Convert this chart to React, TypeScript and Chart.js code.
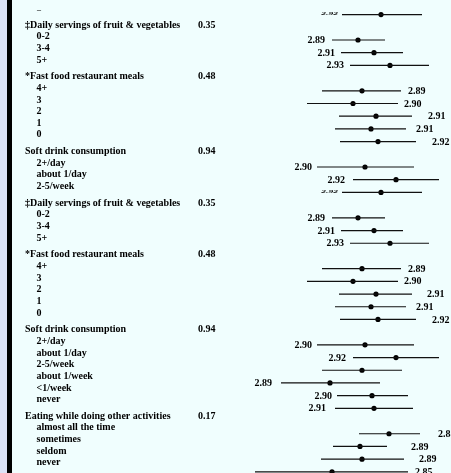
import { useEffect, useRef } from "react";
import { Chart, registerables } from "chart.js";

Chart.register(...registerables);

// Row labels (top to bottom)
const rowLabels: string[] = [
  "2-5/week",
  "‡Daily servings of fruit & vegetables",
  "0-2",
  "3-4",
  "5+",
  "*Fast food restaurant meals",
  "4+",
  "3",
  "2",
  "1",
  "0",
  "Soft drink consumption",
  "2+/day",
  "about 1/day",
  "2-5/week",
  "‡Daily servings of fruit & vegetables",
  "0-2",
  "3-4",
  "5+",
  "*Fast food restaurant meals",
  "4+",
  "3",
  "2",
  "1",
  "0",
  "Soft drink consumption",
  "2+/day",
  "about 1/day",
  "2-5/week",
  "about 1/week",
  "<1/week",
  "never",
  "Eating while doing other activities",
  "almost all the time",
  "sometimes",
  "seldom",
  "never",
];

// p-values shown on header rows
const pValues: (string | null)[] = [
  null, "0.35", null, null, null, "0.48", null, null, null, null, null,
  "0.94", null, null, null, "0.35", null, null, null, "0.48", null, null,
  null, null, null, "0.94", null, null, null, null, null, null, "0.17",
  null, null, null, null,
];

// Point estimates and confidence limits
const estimates: (number | null)[] = [
  1.055, null, 0.94, 1.02, 1.10, null, 0.96, 0.915, 1.03, 1.005, 1.04,
  null, 0.975, 1.13, 1.055, null, 0.94, 1.02, 1.10, null, 0.96, 0.915,
  1.03, 1.005, 1.04, null, 0.975, 1.13, 0.96, 0.80, 1.01, 1.02, null,
  1.095, 0.95, 0.96, 0.81,
];
const lowerCI: (number | null)[] = [
  0.86, null, 0.81, 0.855, 0.90, null, 0.76, 0.685, 0.845, 0.825, 0.85,
  null, 0.735, 0.915, 0.86, null, 0.81, 0.855, 0.90, null, 0.76, 0.685,
  0.845, 0.825, 0.85, null, 0.735, 0.915, 0.76, 0.555, 0.835, 0.825, null,
  0.945, 0.815, 0.755, 0.425,
];
const upperCI: (number | null)[] = [
  1.26, null, 1.075, 1.165, 1.295, null, 1.155, 1.14, 1.21, 1.18, 1.23,
  null, 1.22, 1.345, 1.26, null, 1.075, 1.165, 1.295, null, 1.155, 1.14,
  1.21, 1.18, 1.23, null, 1.22, 1.345, 1.16, 1.05, 1.19, 1.215, null,
  1.25, 1.085, 1.17, 1.19,
];

// Mean-score labels next to each interval
const valueLabels: (string | null)[] = [
  "2.92", null, "2.89", "2.91", "2.93", null, "2.89", "2.90", "2.91", "2.91", "2.92",
  null, "2.90", "2.92", "2.92", null, "2.89", "2.91", "2.93", null, "2.89", "2.90",
  "2.91", "2.91", "2.92", null, "2.90", "2.92", null, "2.89", "2.90", "2.91", null,
  "2.88", "2.89", "2.89", "2.85",
];
const valueSides: (string | null)[] = [
  "tiny", null, "left", "left", "left", null, "right", "right", "right", "right", "right",
  null, "left", "left", "tiny", null, "left", "left", "left", null, "right", "right",
  "right", "right", "right", null, "left", "left", null, "left", "left", "left", null,
  "right", "right", "right", "right",
];
const valueAnchors: (number | null)[] = [
  0.84, null, 0.775, 0.825, 0.87, null, 1.19, 1.17, 1.29, 1.23, 1.31,
  null, 0.71, 0.875, 0.84, null, 0.775, 0.825, 0.87, null, 1.19, 1.17,
  1.285, 1.23, 1.31, null, 0.71, 0.88, null, 0.51, 0.81, 0.78, null,
  1.34, 1.205, 1.245, 1.225,
];

const FONT = 'bold 10px "Liberation Serif", "Times New Roman", serif';
const HEADER_GAP = 0.43; // extra row space before each group header (in row units)

export default function App() {
  const ref = useRef<HTMLCanvasElement>(null);

  useEffect(() => {
    if (!ref.current) return;
    const ciData: any[] = [];
    const pointData: any[] = [];
    rowLabels.forEach((_, i) => {
      const e = estimates[i];
      const lo = lowerCI[i];
      const hi = upperCI[i];
      if (e !== null && lo !== null && hi !== null) {
        ciData.push({ x: lo, y: i }, { x: hi, y: i }, { x: null, y: null });
        pointData.push({ x: e, y: i });
      }
    });

    // cumulative text row positions (headers get a little extra space above)
    const textPos: number[] = [];
    rowLabels.forEach((_, i) => {
      const isHeader = pValues[i] !== null;
      const prev = i === 0 ? -1 : textPos[i - 1];
      textPos.push(prev + 1 + (isHeader ? HEADER_GAP : 0));
    });

    const textPlugin = {
      id: "forestText",
      afterDatasetsDraw(chart: any) {
        const ctx = chart.ctx as CanvasRenderingContext2D;
        const xs = chart.scales.x;
        const ys = chart.scales.y;
        const yt = chart.scales.yText;
        const left = chart.chartArea.left;
        ctx.save();
        ctx.fillStyle = "#000";
        ctx.font = FONT;
        ctx.textBaseline = "middle";
        rowLabels.forEach((label, i) => {
          const isHeader = pValues[i] !== null;
          const ty = yt.getPixelForValue(textPos[i]);
          ctx.save();
          if (i === 0) {
            ctx.beginPath();
            ctx.rect(left + 34, 10.5, 10, 3);
            ctx.clip();
          } else if (i === 14) {
            ctx.beginPath();
            ctx.rect(left, 0, 300, 190.5);
            ctx.clip();
          }
          ctx.textAlign = "left";
          ctx.fillText(label, left + (isHeader ? 25 : 36.5), ty);
          ctx.restore();
          if (isHeader) {
            ctx.textAlign = "left";
            ctx.fillText(pValues[i] as string, left + 198, ty);
          }
          const vl = valueLabels[i];
          const va = valueAnchors[i];
          if (vl !== null && va !== null) {
            const vx = xs.getPixelForValue(va);
            const vy = ys.getPixelForValue(i);
            const side = valueSides[i];
            if (side === "tiny") {
              ctx.save();
              ctx.translate(vx, vy);
              ctx.scale(2.4, 0.8);
              ctx.font = 'italic bold 4px "Liberation Serif", serif';
              ctx.textAlign = "right";
              ctx.fillText(vl, 0, 0);
              ctx.restore();
            } else {
              ctx.textAlign = side === "left" ? "right" : "left";
              ctx.fillText(vl, vx, vy + 0.5);
            }
          }
        });
        ctx.restore();
      },
    };

    const chart = new Chart(ref.current, {
      type: "scatter",
      data: {
        datasets: [
          {
            data: ciData,
            showLine: true,
            spanGaps: false,
            borderColor: "#111",
            borderWidth: 1.2,
            pointRadius: 0,
            clip: false,
          } as any,
          {
            data: pointData,
            pointRadius: 2.6,
            pointBackgroundColor: "#000",
            pointBorderWidth: 0,
            clip: false,
          } as any,
        ],
      },
      options: {
        animation: false,
        responsive: false,
        devicePixelRatio: 1,
        events: [],
        layout: { padding: 0, autoPadding: false },
        plugins: {
          legend: { display: false },
          tooltip: { enabled: false },
        },
        scales: {
          x: { type: "linear", display: false, min: -0.85, max: 1.405 },
          y: { type: "linear", display: false, min: -1.15, max: 36.09, reverse: true },
          yText: {
            type: "linear",
            axis: "y",
            display: false,
            min: -0.717,
            max: 39.88,
            reverse: true,
          },
        } as any,
      } as any,
      plugins: [textPlugin],
    });
    return () => chart.destroy();
  }, []);

  return (
    <div
      style={{
        position: "fixed",
        left: 0,
        top: 0,
        width: 451,
        height: 473,
        background: "#f0fefe",
        overflow: "hidden",
      }}
    >
      <div style={{ position: "absolute", left: 0, top: 0, width: 7, height: 473, background: "#dce3f7" }} />
      <div style={{ position: "absolute", left: 7, top: 0, width: 5, height: 473, background: "#000" }} />
      <canvas
        ref={ref}
        width={451}
        height={473}
        style={{ position: "absolute", left: 0, top: 0, width: 451, height: 473 }}
      />
    </div>
  );
}
